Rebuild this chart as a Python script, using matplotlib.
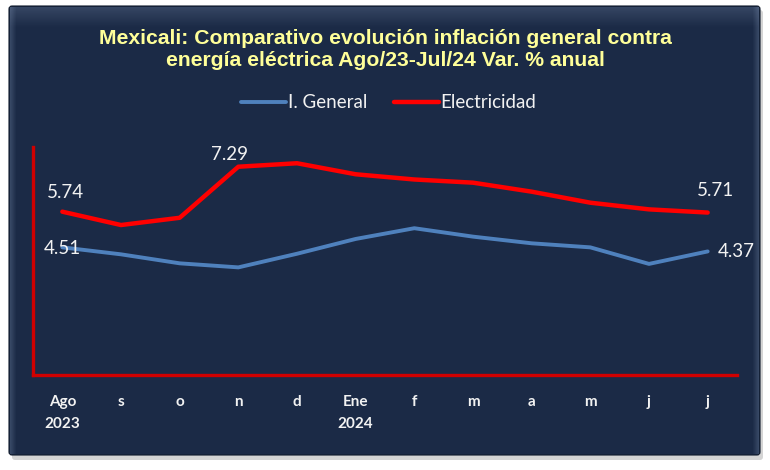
import matplotlib
matplotlib.use("Agg")
import matplotlib.pyplot as plt
from matplotlib.patches import FancyBboxPatch, Rectangle
import numpy as np

months = ["Ago\n2023", "s", "o", "n", "d", "Ene\n2024", "f", "m", "a", "m", "j", "j"]
general = [4.51, 4.27, 3.96, 3.82, 4.29, 4.80, 5.17, 4.88, 4.65, 4.51, 3.94, 4.37]
electricidad = [5.74, 5.28, 5.53, 7.29, 7.41, 7.03, 6.85, 6.74, 6.43, 6.05, 5.82, 5.71]

navy = "#1b2a46"
txt = "#f2f2f2"
plt.rcParams['font.family'] = ['Lato', 'DejaVu Sans']

fig = plt.figure(figsize=(7.7, 4.7), dpi=100)
fig.patch.set_facecolor("white")

# background panel with shadow and bevel
bg = fig.add_axes([0, 0, 1, 1], zorder=-5)
bg.set_xlim(0, 770)
bg.set_ylim(470, 0)
bg.axis("off")
bg.add_patch(FancyBboxPatch((12, 10), 751, 450, boxstyle="round,pad=0,rounding_size=3",
                            fc="#b8b8b8", ec="none", alpha=0.6))
bg.add_patch(FancyBboxPatch((9, 6), 751, 449, boxstyle="round,pad=0,rounding_size=3",
                            fc=navy, ec="#0f1a2c", lw=0.8))
for i in range(20):
    a = 0.45 * (1 - i / 20)
    bg.add_patch(Rectangle((10, 7 + i), 749, 1, fc="#8ea3c4", ec="none", alpha=a * 0.5))
for i in range(6):
    a = 0.25 * (1 - i / 6)
    bg.add_patch(Rectangle((10 + i, 7), 1, 447, fc="#8ea3c4", ec="none", alpha=a))
    bg.add_patch(Rectangle((758 - i, 7), 1, 447, fc="#8ea3c4", ec="none", alpha=a))

ax = fig.add_axes([33 / 770, 1 - 375 / 470, 704 / 770, 228 / 470])
ax.set_facecolor("none")
x = np.arange(len(months))
ax.plot(x, general, color="#4f81bd", lw=2.8, label="I. General", solid_capstyle="round")
ax.plot(x, electricidad, color="#ff0000", lw=3.2, label="Electricidad", solid_capstyle="round")
ax.set_xlim(-0.5, 11.5)
ax.set_ylim(0.11, 7.97)

for s in ["top", "right"]:
    ax.spines[s].set_visible(False)
for s in ["left", "bottom"]:
    ax.spines[s].set_color("#d00000")
    ax.spines[s].set_linewidth(2.4)
ax.set_yticks([])
ax.set_xticks(x)
ax.set_xticklabels(months, color=txt, fontsize=11, fontweight="bold", linespacing=1.7)
ax.tick_params(axis="x", length=0, pad=14.5)
for lab in ax.get_xticklabels():
    lab.set_verticalalignment("top")

def lbl(i, vals, dx, dy, ha="center"):
    ax.annotate(f"{vals[i]:.2f}", (x[i], vals[i]), xytext=(dx, dy), textcoords="offset points",
                ha=ha, va="center", color=txt, fontsize=13.5)

lbl(0, electricidad, 2, 14)
lbl(3, electricidad, -6, 9)
lbl(11, electricidad, 6, 16)
lbl(0, general, 0, -1)
lbl(11, general, 7, 0, ha="left")

fig.text(0.5, 1 - 49.5 / 470, "Mexicali: Comparativo evolución inflación general contra\nenergía eléctrica Ago/23-Jul/24 Var. % anual",
         ha="center", va="center", color="#ffff99", fontsize=15.2, fontweight="bold",
         family=['Liberation Sans', 'DejaVu Sans'], linespacing=1.22)

leg = fig.legend(loc="center", bbox_to_anchor=(0.505, 1 - 103 / 470), ncol=2, frameon=False,
                 fontsize=13.5, handlelength=2.4, columnspacing=1.4, handletextpad=0.1)
for t in leg.get_texts():
    t.set_color(txt)

fig.savefig("out.png", dpi=100, facecolor=fig.get_facecolor())
